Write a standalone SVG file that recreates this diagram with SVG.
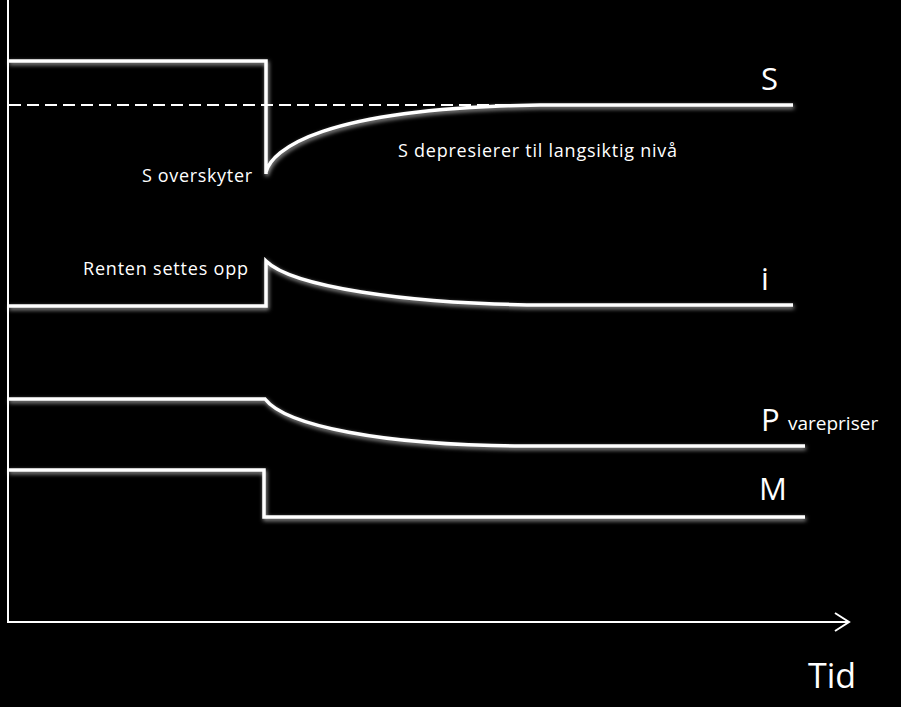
<svg xmlns="http://www.w3.org/2000/svg" width="901" height="707" viewBox="0 0 901 707">
<defs>
<filter id="glow" x="-10%" y="-50%" width="120%" height="200%">
<feGaussianBlur in="SourceAlpha" stdDeviation="2.2" result="b"/>
<feOffset in="b" dx="1" dy="2" result="o"/>
<feFlood flood-color="#ffffff" flood-opacity="0.65"/>
<feComposite in2="o" operator="in" result="g"/>
<feMerge><feMergeNode in="g"/><feMergeNode in="SourceGraphic"/></feMerge>
</filter>
<marker id="arr" markerWidth="20" markerHeight="24" refX="16" refY="12" orient="auto" markerUnits="userSpaceOnUse">
<path d="M2,3 L16,12 L2,21" fill="none" stroke="#fff" stroke-width="2"/>
</marker>
</defs>
<style>
.curve{fill:none;stroke:#fff;stroke-width:3.5;filter:url(#glow)}
.axis{fill:none;stroke:#fff;stroke-width:2}
.dash{fill:none;stroke:#fff;stroke-width:2;stroke-dasharray:12 6}
.big{font-family:"Open Sans","Liberation Sans",sans-serif;fill:#fff;font-size:31px}
.small{font-family:"Open Sans","Liberation Sans",sans-serif;fill:#fff;font-size:18px}
</style>
<rect width="901" height="707" fill="#000"/>
<g id="axes">
<line class="axis" x1="8" y1="0" x2="8" y2="623"/>
<line class="axis" x1="7" y1="622" x2="849" y2="622" marker-end="url(#arr)"/>
</g>
<g id="connectors">
<line class="dash" x1="9" y1="105" x2="540" y2="105"/>
<path id="S-curve" class="curve" d="M8,61 H266 V174 M266,172 C272,150 320,108 540,105 H793"/>
<path id="i-curve" class="curve" d="M8,306 H266 V261 C290,285 400,305 555,305 H793"/>
<path id="P-curve" class="curve" d="M8,399 H265 C285,425 380,446 530,446 H805"/>
<path id="M-curve" class="curve" d="M8,470 H264 V517 H805"/>
</g>
<g id="labels">
<text class="big" x="761" y="90">S</text>
<text class="small" x="252" y="182" text-anchor="end" textLength="110">S overskyter</text>
<text class="small" x="398" y="157" textLength="279">S depresierer til langsiktig nivå</text>
<text class="small" x="83" y="275" textLength="165">Renten settes opp</text>
<text class="big" x="761" y="290">i</text>
<text class="big" x="761" y="431">P</text>
<text x="788" y="430" font-family="Open Sans, Liberation Sans, sans-serif" font-size="19" fill="#fff">varepriser</text>
<text class="big" x="759" y="500">M</text>
<text x="808" y="688" font-family="Open Sans, Liberation Sans, sans-serif" font-size="34" fill="#fff">Tid</text>
</g>
</svg>
